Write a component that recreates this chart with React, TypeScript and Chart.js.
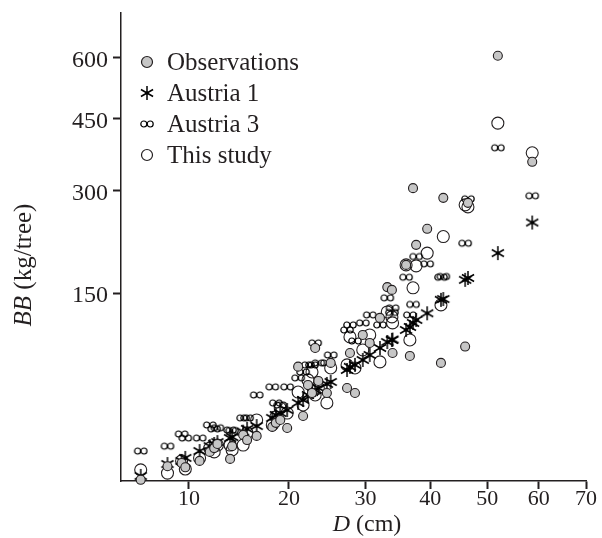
import React, { useEffect, useRef } from 'react';
import { Chart, registerables, LinearScale } from 'chart.js';

Chart.register(...registerables);

// ---- data (D in cm, BB in kg/tree) ----
const treeDiameters = [6.4, 8.3, 9.4, 9.7, 10.9, 11.8, 12.2, 12.5, 13.7, 13.9, 15.0, 15.4, 16.4, 18.1, 18.5, 19.0, 19.8, 21.1, 21.7, 22.3, 22.8, 23.2, 23.6, 24.7, 25.2, 27.4, 27.8, 28.5, 29.6, 30.6, 32.1, 33.2, 33.9, 34.0, 36.1, 36.7, 37.2, 37.7, 39.5, 41.8, 42.2, 46.0, 46.5, 52.0, 58.7];
const observed = [9.0, 13.5, 14.7, 13.1, 15.5, 19.2, 20.9, 22.8, 16.3, 21.8, 27.3, 24.7, 26.8, 31.6, 33.9, 35.6, 31.0, 74.1, 38.0, 59.3, 53.3, 90.9, 62.4, 53.3, 77.3, 57.0, 86.2, 53.3, 103.6, 95.7, 121.5, 157.5, 154.0, 86.2, 186.3, 83.5, 305, 214.4, 238.3, 77.3, 288, 92.2, 279.7, 606, 356.7];
const austria1 = [10.2, 14.3, 15.5, 16.7, 19.6, 21.8, 22.8, 23.7, 25.7, 26.2, 29.0, 30.5, 32.1, 36.8, 38.6, 39.8, 41.7, 46.4, 48.4, 51.9, 54.0, 55.5, 57.0, 60.1, 61.6, 71.3, 73.9, 75.6, 79.9, 84.4, 90.9, 96.6, 98.6, 99.0, 108.7, 111.8, 116.1, 119.3, 126.6, 142.0, 143, 166.6, 169, 202.6, 248];
const austria3 = [19.6, 21.8, 27.8, 25.7, 25.7, 32.7, 30.5, 31.1, 29.9, 29.6, 36.8, 36.8, 51.9, 57.8, 46.4, 45.0, 57.8, 64.8, 69.6, 75.6, 75.6, 95.7, 77.3, 77.3, 84.4, 108.7, 114.0, 97.6, 116.1, 124.8, 114.0, 144.4, 127.5, 132.7, 170.0, 124.8, 136.7, 197.8, 187.7, 170.0, 171, 216.8, 286.4, 385.9, 291.5];
const thisStudy = [12.2, 11.1, 15.5, 12.5, 16.7, 20.9, 19.2, 22.3, 22.3, 20.1, 22.3, 28.4, 35.6, 32.7, 37.4, 43.0, 39.8, 54.0, 45.0, 63.2, 69.6, 51.9, 57.0, 46.4, 73.0, 75.6, 101.6, 73.0, 89.0, 103.6, 78.2, 128.1, 122.6, 116.1, 186.3, 98.6, 156.6, 185.0, 202.6, 136.1, 226.6, 276.4, 273, 440, 375.3];

const seriesLabels = ['Observations', 'Austria 1', 'Austria 3', 'This study'];
const xTicks = [10, 20, 30, 40, 50, 60, 70];
const yTicks = [150, 300, 450, 600];

// axis ranges
const X_MIN = 5.16;
const X_MAX = 70;
const Y_MIN = 8.65;
const Y_MAX = 725;
// relative spacing of the y tick marks on the (irregular, square-root like) axis
const yKnotSpacing = [0, 102.3, 174.3, 235];

const INK = '#231f20';
const GREY = '#c6c6c6';
const SERIF = "'Liberation Serif', 'Times New Roman', serif";

function warpX(v: number) {
  return Math.sqrt(Math.max(v, 0));
}
function warpY(v: number) {
  const s = Math.sqrt(Math.max(v, 0));
  const S = yTicks.map(Math.sqrt);
  const P = yKnotSpacing;
  const n = S.length;
  if (s <= S[0]) return P[0] - (S[0] - s) * (P[1] - P[0]) / (S[1] - S[0]);
  if (s >= S[n - 1]) return P[n - 1] + (s - S[n - 1]) * (P[n - 1] - P[n - 2]) / (S[n - 1] - S[n - 2]);
  for (let i = 0; i < n - 1; i++) {
    if (s <= S[i + 1]) return P[i] + (s - S[i]) * (P[i + 1] - P[i]) / (S[i + 1] - S[i]);
  }
  return P[n - 1];
}

function makeWarpScale(id: string, warp: (v: number) => number) {
  return class extends LinearScale {
    static id = id;
    static defaults = {};
    getPixelForValue(value: any) {
      if (value === null || value === undefined || isNaN(value)) return NaN;
      const a = warp(this.min);
      const b = warp(this.max);
      return this.getPixelForDecimal((warp(value) - a) / (b - a));
    }
    getValueForPixel(pixel: number) {
      const d = this.getDecimalForPixel(pixel);
      let lo = this.min;
      let hi = this.max;
      const a = warp(lo);
      const b = warp(hi);
      const target = a + d * (b - a);
      for (let k = 0; k < 60; k++) {
        const m = (lo + hi) / 2;
        if (warp(m) < target) lo = m;
        else hi = m;
      }
      return (lo + hi) / 2;
    }
  };
}

const SqrtXScale = makeWarpScale('sqrtX', warpX);
const WarpYScale = makeWarpScale('warpY', warpY);
Chart.register(SqrtXScale as any, WarpYScale as any);

function makeAsterisk(): HTMLCanvasElement {
  const c = document.createElement('canvas');
  c.width = 18;
  c.height = 18;
  const g = c.getContext('2d')!;
  const cx = 9, cy = 9, r = 7;
  g.strokeStyle = '#000';
  g.lineWidth = 1.5;
  g.lineCap = 'butt';
  [90, 30, 150].forEach((deg) => {
    const a = (deg * Math.PI) / 180;
    g.beginPath();
    g.moveTo(cx - r * Math.cos(a), cy - r * Math.sin(a));
    g.lineTo(cx + r * Math.cos(a), cy + r * Math.sin(a));
    g.stroke();
  });
  g.fillStyle = '#000';
  g.beginPath();
  g.arc(cx, cy, 1.8, 0, Math.PI * 2);
  g.fill();
  return c;
}

function makeDoubleCircle(): HTMLCanvasElement {
  const c = document.createElement('canvas');
  c.width = 16;
  c.height = 10;
  const g = c.getContext('2d')!;
  g.strokeStyle = '#000';
  g.lineWidth = 1.2;
  [4.8, 11.2].forEach((x) => {
    g.beginPath();
    g.arc(x, 5, 3, 0, Math.PI * 2);
    g.stroke();
  });
  return c;
}

function drawMixed(ctx: CanvasRenderingContext2D, parts: { t: string; italic: boolean }[], size: number, cx: number, baseY: number) {
  const fonts = parts.map((p) => `${p.italic ? 'italic ' : ''}${size}px ${SERIF}`);
  let total = 0;
  const widths = parts.map((p, i) => {
    ctx.font = fonts[i];
    const w = ctx.measureText(p.t).width;
    total += w;
    return w;
  });
  let x = cx - total / 2;
  parts.forEach((p, i) => {
    ctx.font = fonts[i];
    ctx.fillText(p.t, x, baseY);
    x += widths[i];
  });
}

export default function App() {
  const canvasRef = useRef<HTMLCanvasElement | null>(null);

  useEffect(() => {
    const canvas = canvasRef.current;
    if (!canvas) return;
    const asterisk = makeAsterisk();
    const doubleCircle = makeDoubleCircle();

    const pts = (ys: number[]) => treeDiameters.map((d, i) => ({ x: d, y: ys[i] }));

    const legendMarkers = [
      (ctx: CanvasRenderingContext2D, x: number, y: number) => {
        ctx.beginPath();
        ctx.arc(x, y, 5.5, 0, Math.PI * 2);
        ctx.fillStyle = GREY;
        ctx.fill();
        ctx.lineWidth = 1.2;
        ctx.strokeStyle = INK;
        ctx.stroke();
      },
      (ctx: CanvasRenderingContext2D, x: number, y: number) => {
        ctx.drawImage(asterisk, x - asterisk.width / 2, y - asterisk.height / 2);
      },
      (ctx: CanvasRenderingContext2D, x: number, y: number) => {
        ctx.drawImage(doubleCircle, x - doubleCircle.width / 2, y - doubleCircle.height / 2);
      },
      (ctx: CanvasRenderingContext2D, x: number, y: number) => {
        ctx.beginPath();
        ctx.arc(x, y, 5.5, 0, Math.PI * 2);
        ctx.fillStyle = '#fff';
        ctx.fill();
        ctx.lineWidth = 1.2;
        ctx.strokeStyle = INK;
        ctx.stroke();
      },
    ];

    const decorations = {
      id: 'decorations',
      afterDraw(chart: any) {
        const ctx: CanvasRenderingContext2D = chart.ctx;
        const area = chart.chartArea;
        ctx.save();
        ctx.fillStyle = INK;
        ctx.textBaseline = 'alphabetic';
        ctx.textAlign = 'left';
        // legend inside plot area
        seriesLabels.forEach((label, i) => {
          const cy = area.top + 49 + i * 31;
          ctx.save();
          legendMarkers[i](ctx, area.left + 26, cy);
          ctx.restore();
          ctx.fillStyle = INK;
          ctx.font = `25px ${SERIF}`;
          ctx.fillText(label, area.left + 46, cy + 8);
        });
        // x-axis title
        ctx.fillStyle = INK;
        drawMixed(ctx, [{ t: 'D', italic: true }, { t: ' (cm)', italic: false }], 24, 367, 531);
        // y-axis title (rotated)
        ctx.save();
        ctx.translate(31, 265);
        ctx.rotate(-Math.PI / 2);
        drawMixed(ctx, [{ t: 'BB', italic: true }, { t: ' (kg/tree)', italic: false }], 25, 0, 0);
        ctx.restore();
        ctx.restore();
      },
    };

    const chart = new Chart(canvas, {
      type: 'scatter',
      data: {
        datasets: [
          {
            label: seriesLabels[0],
            data: pts(observed),
            pointStyle: 'circle',
            pointRadius: 4.5,
            pointBackgroundColor: GREY,
            pointBorderColor: INK,
            pointBorderWidth: 1.1,
            clip: false,
          },
          {
            label: seriesLabels[1],
            data: pts(austria1),
            pointStyle: asterisk,
            pointRadius: 7,
            clip: false,
          },
          {
            label: seriesLabels[2],
            data: pts(austria3),
            pointStyle: doubleCircle,
            pointRadius: 4,
            clip: false,
          },
          {
            label: seriesLabels[3],
            data: pts(thisStudy),
            pointStyle: 'circle',
            pointRadius: 6,
            pointBackgroundColor: 'rgba(255,255,255,0)',
            pointBorderColor: INK,
            pointBorderWidth: 1.1,
            clip: false,
          },
        ] as any,
      },
      options: {
        animation: false,
        responsive: false,
        maintainAspectRatio: false,
        layout: { padding: { top: 13, right: 16, left: 0, bottom: 0 } },
        plugins: {
          legend: { display: false },
          tooltip: { enabled: false },
          title: { display: false },
        },
        scales: {
          x: {
            type: 'sqrtX' as any,
            min: X_MIN,
            max: X_MAX,
            bounds: 'data',
            afterBuildTicks: (scale: any) => {
              scale.ticks = xTicks.map((value) => ({ value }));
            },
            afterFit: (scale: any) => {
              scale.height = 57;
              scale.paddingLeft = 0;
            },
            ticks: {
              autoSkip: false,
              maxRotation: 0,
              padding: -3,
              color: INK,
              font: { family: SERIF, size: 22 },
              callback: (v: any) => String(v),
            },
            grid: {
              display: true,
              drawOnChartArea: false,
              drawTicks: true,
              tickLength: 8,
              tickWidth: 2,
              tickColor: INK,
            },
            border: { display: true, color: INK, width: 1.5 },
          } as any,
          y: {
            type: 'warpY' as any,
            min: Y_MIN,
            max: Y_MAX,
            bounds: 'data',
            afterBuildTicks: (scale: any) => {
              scale.ticks = yTicks.map((value) => ({ value }));
            },
            afterFit: (scale: any) => {
              scale.width = 121;
              scale.paddingTop = 0;
              scale.paddingBottom = 0;
            },
            ticks: {
              autoSkip: false,
              padding: 5,
              labelOffset: 3,
              color: INK,
              font: { family: SERIF, size: 24 },
              callback: (v: any) => String(v),
            },
            grid: {
              display: true,
              drawOnChartArea: false,
              drawTicks: true,
              tickLength: 8,
              tickWidth: 2,
              tickColor: INK,
            },
            border: { display: true, color: INK, width: 1.5 },
          } as any,
        },
      },
      plugins: [decorations],
    });

    return () => {
      chart.destroy();
    };
  }, []);

  return (
    <div style={{ position: 'fixed', left: 0, top: 0, width: 602, height: 538, background: '#fff' }}>
      <canvas ref={canvasRef} width={602} height={538} style={{ width: 602, height: 538, display: 'block' }} />
    </div>
  );
}
